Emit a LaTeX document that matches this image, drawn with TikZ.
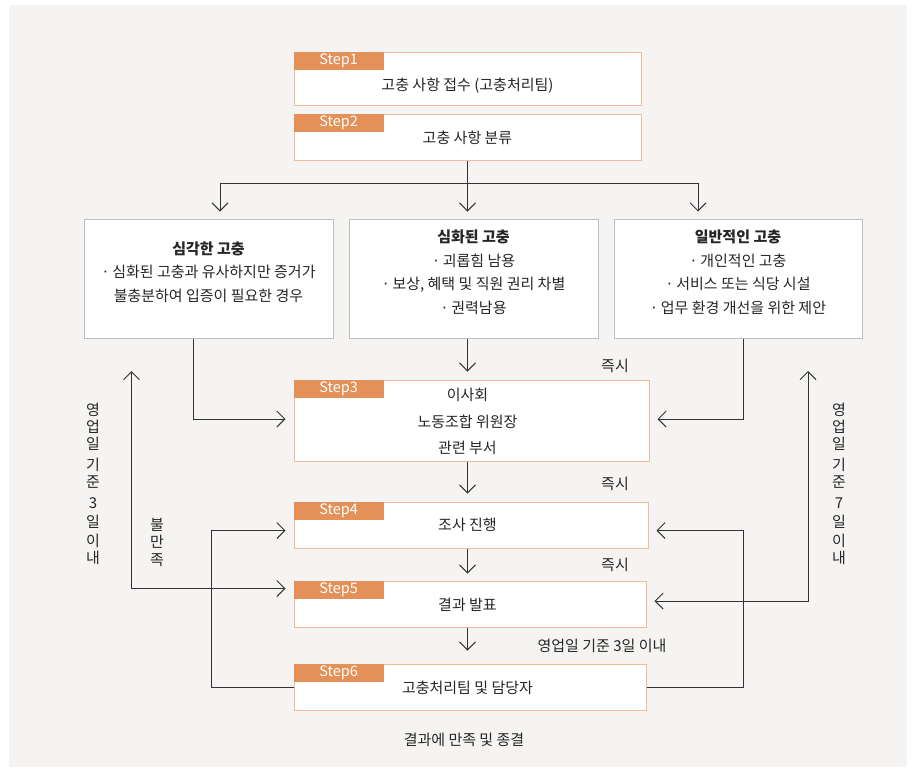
\documentclass[tikz,border=0pt]{standalone}
\usepackage{fontspec}
\setmainfont{Noto Sans CJK KR}
\usetikzlibrary{arrows.meta,positioning,fit}

\definecolor{bgpaper}{HTML}{F5F4F2}
\definecolor{steporange}{HTML}{E39158}
\definecolor{stepline}{HTML}{F2BC98}
\definecolor{catline}{HTML}{BEBEBE}
\definecolor{inkline}{HTML}{333333}

\newcommand{\bul}{·\hspace{2.5pt}}

\begin{document}
\begin{tikzpicture}[x=1pt,y=-1pt,
  every node/.style={font=\fontsize{15}{17}\selectfont, text=black!85, inner sep=0pt},
  stepbox/.style={draw=stepline, line width=1pt, fill=white, inner sep=0pt},
  steptab/.style={fill=steporange, text=white, font=\fontsize{14.5}{17}\selectfont,
    minimum width=90pt, minimum height=18pt, anchor=north west},
  catbox/.style={draw=catline, line width=1pt, fill=white, inner sep=0pt, align=center,
    font=\fontsize{15}{23.5}\selectfont},
  wire/.style={draw=inkline, line width=0.9pt},
  flow/.style={wire, -{Straight Barb[length=8pt,width=16pt]}, shorten >=8pt},
  twoway/.style={wire, {Straight Barb[length=8pt,width=16pt]}-{Straight Barb[length=8pt,width=16pt]}, shorten >=8pt},
  stack/.style={align=center, font=\fontsize{15}{17}\selectfont}
]

\useasboundingbox (0,0) rectangle (916,772);
\fill[bgpaper] (9,5) rectangle (907,767);

% === STEP BOXES ===
\foreach \i/\l/\t/\r/\b in {1/294/52/641/105, 2/294/114/641/160, 3/294/380/649/461,
                             4/294/502/648/548, 5/294/581/646/627, 6/294/664/646/710} {
  \node[stepbox, fit={(\l,\t) (\r,\b)}] (s\i) {};
  \node[steptab] (tab\i) at (s\i.north west) {Step\i};
}

\node (st1) at (467.5,86) {고충 사항 접수 (고충처리팀)};
\node (st2) at (467.5,138) {고충 사항 분류};
\node[align=center, font=\fontsize{15}{26.5}\selectfont] (st3) at (467.5,421.5) {이사회\\노동조합 위원장\\관련 부서};
\node (st4) at (467.5,525) {조사 진행};
\node (st5) at (467.5,605) {결과 발표};
\node (st6) at (467.5,688) {고충처리팀 및 담당자};

% === CATEGORY BOXES ===
\node[catbox, fit={(84,219) (333,338)}] (c1) {\textbf{심각한 고충}\\\bul 심화된 고충과 유사하지만 증거가\\불충분하여 입증이 필요한 경우};
\node[catbox, fit={(349,219) (598,338)}] (c2) {\textbf{심화된 고충}\\\bul 괴롭힘 남용\\\bul 보상, 혜택 및 직원 권리 차별\\\bul 권력남용};
\node[catbox, fit={(614,219) (862,338)}] (c3) {\textbf{일반적인 고충}\\\bul 개인적인 고충\\\bul 서비스 또는 식당 시설\\\bul 업무 환경 개선을 위한 제안};

% === BRANCH ===
\coordinate (brL) at (220,183);
\coordinate (brM) at (467.5,183);
\coordinate (brR) at (698,183);
\draw[wire] (s2.south) -- (brM);
\draw[wire] (brL) -- (brR);
\draw[flow, shorten >=7pt] (brL) -- (brL |- c1.north);
\draw[flow, shorten >=7pt] (brM) -- (brM |- c2.north);
\draw[flow, shorten >=7pt] (brR) -- (brR |- c3.north);

% === INTO STEP3 ===
\coordinate (mid) at (467.5,0);
\coordinate (k1) at (193.5,419);
\coordinate (k3) at (743.5,419);
\draw[flow] (mid |- c2.south) -- (mid |- s3.north);
\draw[flow] (k1 |- c1.south) -- (k1) -- (k1 -| s3.west);
\draw[flow] (k3 |- c3.south) -- (k3) -- (k3 -| s3.east);

% === DOWN THE STEPS ===
\draw[flow] (mid |- s3.south) -- (mid |- s4.north);
\draw[flow, shorten >=7pt] (mid |- s4.south) -- (mid |- s5.north);
\draw[flow, shorten >=13pt] (mid |- s5.south) -- (mid |- s6.north);

% === FEEDBACK LOOPS ===
\coordinate (fbL) at (211,530.5);
\coordinate (fbR) at (743.5,530.5);
\draw[flow] (s6.west) -| (fbL) -- (fbL -| s4.west);
\draw[flow] (s6.east) -| (fbR) -- (fbR -| s4.east);

\coordinate (tLtop) at (131.5,371);
\coordinate (tL) at (131.5,588.5);
\coordinate (tRtop) at (808,371);
\coordinate (tR) at (808,601);
\draw[twoway] (tLtop) -- (tL) -- (tL -| s5.west);
\draw[twoway] (tRtop) -- (tR) -- (tR -| s5.east);

% === LABELS ===
\node (now1) at (615,366) {즉시};
\node (now2) at (615,484) {즉시};
\node (now3) at (615,565) {즉시};
\node (days56) at (602,646) {영업일 기준 3일 이내};
\node (close) at (464,740) {결과에 만족 및 종결};

\node[stack] (daysL) at (93,484) {영\\업\\일\\[4pt]기\\준\\[4pt]3\\[2pt]일\\[2pt]이\\내};
\node[stack] (daysR) at (839,484) {영\\업\\일\\[4pt]기\\준\\[4pt]7\\[2pt]일\\[2pt]이\\내};
\node[stack, font=\fontsize{15}{17.5}\selectfont] (unhappy) at (157,542) {불\\만\\족};

\end{tikzpicture}
\end{document}
